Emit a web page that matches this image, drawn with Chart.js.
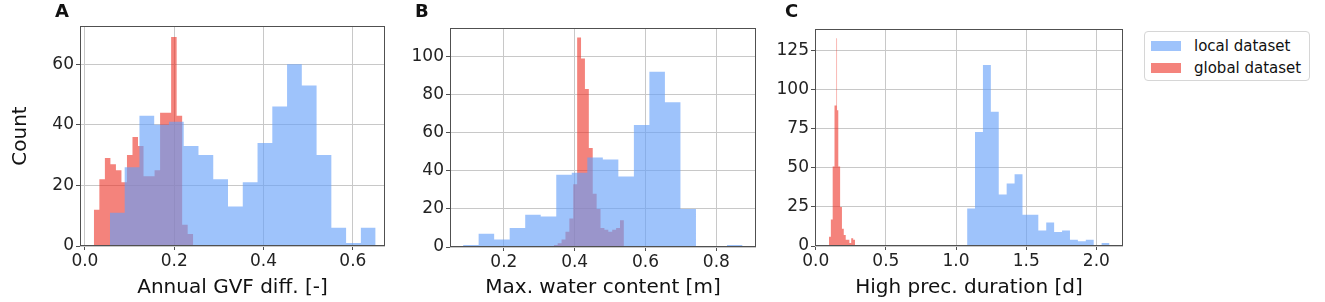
<!DOCTYPE html>
<html>
<head>
<meta charset="utf-8">
<script src="https://cdn.jsdelivr.net/npm/chart.js@4.4.1/dist/chart.umd.min.js"></script>
<style>
  body { margin: 0; background: #fff; width: 1325px; height: 302px; position: relative; overflow: hidden; font-family: "DejaVu Sans", sans-serif; }
  .panel { position: absolute; top: 0; height: 302px; }
  .letter { position: absolute; top: 1px; font-weight: bold; font-size: 18px; line-height: 20px; color: #111; }
  #legend { position: absolute; left: 1144px; top: 31px; width: 164px; height: 48px; border: 1px solid #d6d6d6; border-radius: 4px; font-size: 15px; color: #111; }
  #legend .item { position: absolute; left: 6px; height: 18px; line-height: 18px; }
  #legend .patch { display: inline-block; width: 30px; height: 10px; vertical-align: middle; margin-right: 13px; margin-top: -2px; }
</style>
</head>
<body>
<div class="panel" style="left:0;width:390px"><canvas id="chartA"></canvas></div>
<div class="panel" style="left:395px;width:365px"><canvas id="chartB"></canvas></div>
<div class="panel" style="left:760px;width:370px"><canvas id="chartC"></canvas></div>
<div class="letter" style="left:55px">A</div>
<div class="letter" style="left:415px">B</div>
<div class="letter" style="left:785px">C</div>
<div id="legend">
  <div class="item" style="top:5px"><span class="patch" id="patchLocal"></span>local dataset</div>
  <div class="item" style="top:27px"><span class="patch" id="patchGlobal"></span>global dataset</div>
</div>
<script>
// histogram counts, bins spread evenly over each range
const localA_range = [0.056, 0.651];
const localA_counts = [11, 26, 43, 40, 41, 33, 30, 22, 13, 21, 34, 46, 60, 53, 30, 6, 1, 6];
const globalA_range = [0.020, 0.2425];
const globalA_counts = [12, 22, 29, 27, 25, 21, 30, 36, 33, 23, 23, 25, 44, 44, 69, 43, 7, 4];

const localB_range = [0.085, 0.874];
const localB_counts = [1, 7, 4, 10, 17, 16, 38, 39, 47, 46, 37, 64, 92, 76, 20, 0, 0, 1];
const globalB_range = [0.341, 0.539];
const globalB_counts = [1, 2, 4, 8, 15, 33, 110, 99, 83, 52, 28, 20, 10, 9, 8, 9, 10, 14];

const localC_range = [1.079, 2.094];
const localC_counts = [24, 73, 116, 86, 33, 40, 46, 20, 20, 10, 15, 9, 10, 4, 3, 4, 0, 2];
// global C has one very thin spike bin, so its edges are listed
const globalC_edges = [0.095, 0.108, 0.121, 0.134, 0.148, 0.152, 0.161, 0.174, 0.187, 0.200, 0.214, 0.227, 0.240, 0.253, 0.267, 0.280];
const globalC_counts = [6, 17, 51, 90, 133, 87, 51, 25, 11, 7, 4, 4, 2, 5, 4];

const xTicksA = [0, 0.2, 0.4, 0.6];
const yTicksA = [0, 20, 40, 60];
const xTicksB = [0.2, 0.4, 0.6, 0.8];
const yTicksB = [0, 20, 40, 60, 80, 100];
const xTicksC = [0, 0.5, 1.0, 1.5, 2.0];
const yTicksC = [0, 25, 50, 75, 100, 125];

const LOCAL_COLOR = 'rgba(102, 160, 249, 0.63)';
const GLOBAL_COLOR = 'rgba(237, 48, 37, 0.6)';
const GRID = '#c8c8c8';
const FRAME = '#505050';

document.getElementById('patchLocal').style.background = LOCAL_COLOR;
document.getElementById('patchGlobal').style.background = GLOBAL_COLOR;

function evenEdges(range, n) {
    const w = (range[1] - range[0]) / n;
    return Array.from({ length: n + 1 }, (_, i) => range[0] + i * w);
}

function histPoints(edges, counts) {
    const pts = [{ x: edges[0], y: 0 }];
    counts.forEach((c, i) => pts.push({ x: edges[i], y: c }));
    pts.push({ x: edges[edges.length - 1], y: 0 });
    return pts;
}

const framePlugin = {
    id: 'frame',
    afterDraw(chart) {
        const { ctx, chartArea: a } = chart;
        const l = Math.round(a.left) + 0.5, t = Math.round(a.top) + 0.5;
        const r = Math.round(a.right) - 0.5, b = Math.round(a.bottom) - 0.5;
        ctx.save();
        ctx.strokeStyle = FRAME;
        ctx.lineWidth = 1;
        ctx.strokeRect(l, t, r - l, b - t);
        ctx.restore();
    }
};

function histDataset(label, edges, counts, color) {
    return {
        label: label,
        data: histPoints(edges, counts),
        stepped: true,
        fill: 'origin',
        backgroundColor: color,
        borderColor: 'rgba(0,0,0,0)',
        borderWidth: 0,
        pointRadius: 0,
        pointHoverRadius: 0
    };
}

function makeChart(id, p) {
    const tickFont = { family: 'DejaVu Sans', size: 17 };
    const titleFont = { family: 'DejaVu Sans', size: 20 };
    return new Chart(document.getElementById(id), {
        type: 'line',
        data: {
            datasets: [
                histDataset('local dataset', p.localEdges, p.localCounts, LOCAL_COLOR),
                histDataset('global dataset', p.globalEdges, p.globalCounts, GLOBAL_COLOR)
            ]
        },
        options: {
            responsive: true,
            maintainAspectRatio: false,
            animation: false,
            events: [],
            layout: { padding: { top: p.top, right: p.right, bottom: 0, left: 0 } },
            plugins: { legend: { display: false }, tooltip: { enabled: false } },
            scales: {
                x: {
                    type: 'linear',
                    min: p.xRange[0],
                    max: p.xRange[1],
                    afterBuildTicks: s => { s.ticks = p.xTicks.map(v => ({ value: v })); },
                    afterFit: s => { s.height = 302 - p.bottom; },
                    ticks: { font: tickFont, color: '#222', padding: 1, maxRotation: 0, autoSkip: false, callback: v => v.toFixed(1) },
                    grid: { color: GRID, tickColor: FRAME, tickLength: 4 },
                    border: { display: false },
                    title: { display: true, text: p.xTitle, font: titleFont, color: '#111', padding: { top: 0, bottom: 2 } }
                },
                y: {
                    type: 'linear',
                    min: 0,
                    max: p.yMax,
                    afterBuildTicks: s => { s.ticks = p.yTicks.map(v => ({ value: v })); },
                    afterFit: s => { s.width = p.yWidth; },
                    ticks: { font: tickFont, color: '#222', padding: 2, autoSkip: false, callback: v => String(v) },
                    grid: { color: GRID, tickColor: FRAME, tickLength: 4 },
                    border: { display: false },
                    title: { display: !!p.yTitle, text: p.yTitle || '', font: titleFont, color: '#111', padding: { top: 9, bottom: 0 } }
                }
            }
        },
        plugins: [framePlugin]
    });
}

makeChart('chartA', {
    localEdges: evenEdges(localA_range, localA_counts.length), localCounts: localA_counts,
    globalEdges: evenEdges(globalA_range, globalA_counts.length), globalCounts: globalA_counts,
    xRange: [-0.011, 0.672], yMax: 72.6, xTicks: xTicksA, yTicks: yTicksA,
    xTitle: 'Annual GVF diff. [-]', yTitle: 'Count',
    top: 26, bottom: 246, right: 5, yWidth: 80
});

makeChart('chartB', {
    localEdges: evenEdges(localB_range, localB_counts.length), localCounts: localB_counts,
    globalEdges: evenEdges(globalB_range, globalB_counts.length), globalCounts: globalB_counts,
    xRange: [0.048, 0.912], yMax: 115, xTicks: xTicksB, yTicks: yTicksB,
    xTitle: 'Max. water content [m]',
    top: 28, bottom: 247, right: 4, yWidth: 55
});

makeChart('chartC', {
    localEdges: evenEdges(localC_range, localC_counts.length), localCounts: localC_counts,
    globalEdges: globalC_edges, globalCounts: globalC_counts,
    xRange: [-0.005, 2.19], yMax: 139, xTicks: xTicksC, yTicks: yTicksC,
    xTitle: 'High prec. duration [d]',
    top: 29, bottom: 246, right: 7, yWidth: 55
});
</script>
</body>
</html>
